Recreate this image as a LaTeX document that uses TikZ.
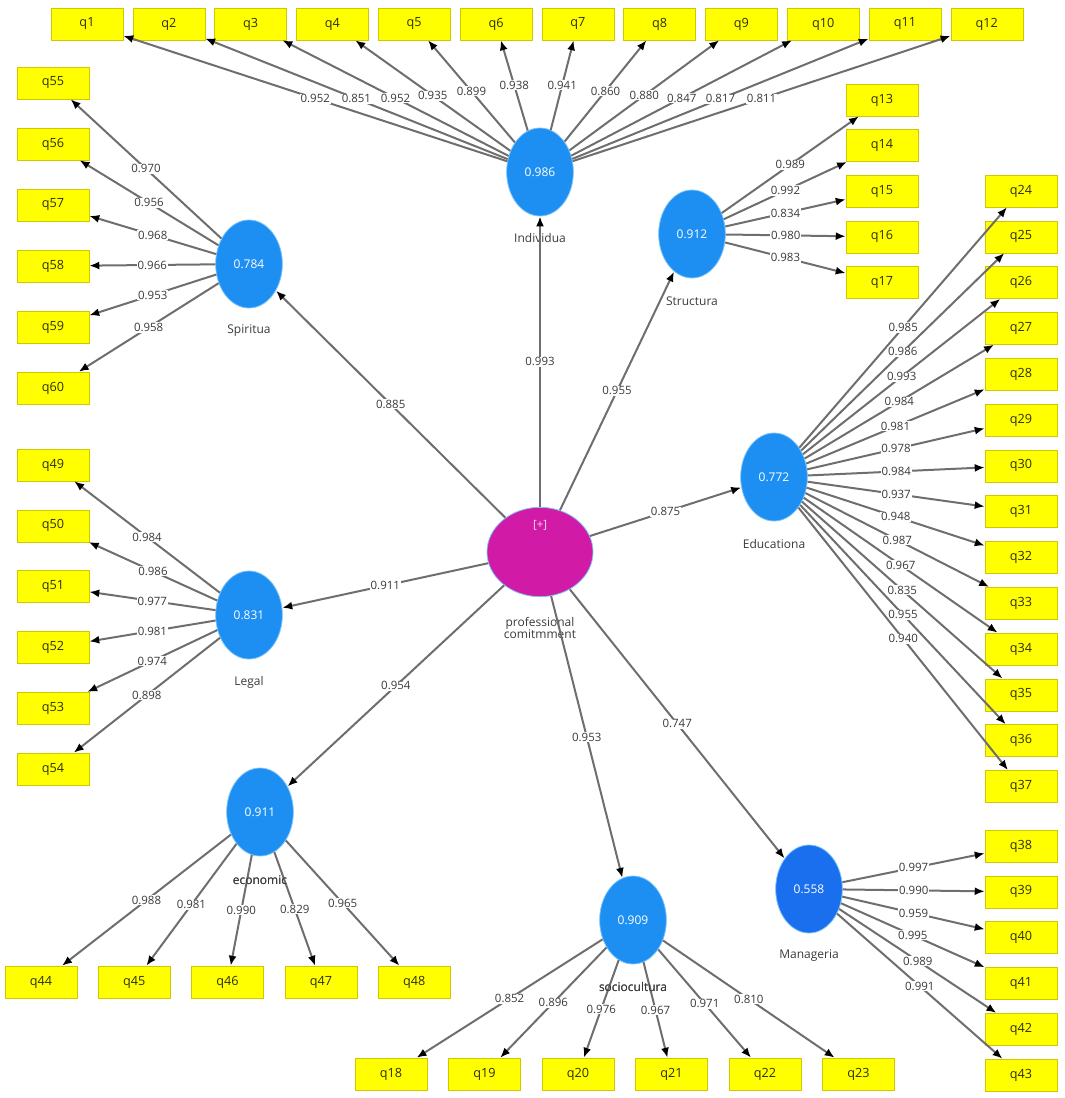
\documentclass[tikz,border=0pt]{standalone}
\usepackage{fontspec}
\setmainfont{Open Sans}
\usetikzlibrary{arrows.meta,shapes.geometric}
\definecolor{edgegray}{HTML}{6E6E6E}
\definecolor{latblue}{HTML}{1E8FF2}
\definecolor{mangblue}{HTML}{1A6FEF}
\definecolor{latrim}{HTML}{7CC4F8}
\definecolor{centmag}{HTML}{D11AA6}
\definecolor{boxyellow}{HTML}{FFFF00}
\definecolor{boxedge}{HTML}{CFC800}
\definecolor{txtgray}{HTML}{3A3A3A}
\definecolor{boxtxt}{HTML}{2E2E10}
\tikzset{
  indbox/.style={draw=boxedge, fill=boxyellow, minimum width=54pt, minimum height=24pt, inner sep=0pt, font=\fontsize{9.5}{10}\selectfont, text=boxtxt},
  lat/.style={ellipse, draw=latrim, line width=0.6pt, fill=latblue, minimum width=50pt, minimum height=66pt, inner sep=0pt, text=white, font=\fontsize{9}{10}\selectfont},
  latname/.style={text=txtgray, inner sep=0pt, font=\fontsize{9}{10}\selectfont},
  load/.style={draw=edgegray, line width=1.5pt, -{Latex[length=7.5pt,width=6pt,color=black,fill=black]}},
  val/.style={fill=white, inner sep=0.6pt, text=txtgray, font=\fontsize{8.6}{9}\selectfont},
}
\begin{document}
\begin{tikzpicture}[x=0.75pt,y=-0.75pt]
\useasboundingbox (0,0) rectangle (1064,1098);
% indicator boxes
\foreach \i in {1,...,12} \node[indbox] (q\i) at ({87+(\i-1)*81.8},24) {q\i};
\foreach \i in {13,...,17} \node[indbox] (q\i) at (882,{100+(\i-13)*45.6}) {q\i};
\foreach \i in {24,...,37} \node[indbox] (q\i) at (1021,{191+(\i-24)*45.8}) {q\i};
\foreach \i in {38,...,43} \node[indbox] (q\i) at (1021,{846+(\i-38)*45.8}) {q\i};
\foreach \i in {18,...,23} \node[indbox] (q\i) at ({391+(\i-18)*93.5},1074) {q\i};
\foreach \i in {44,...,48} \node[indbox] (q\i) at ({41+(\i-44)*93.3},982) {q\i};
\foreach \i in {49,...,54} \node[indbox] (q\i) at (53,{465+(\i-49)*60.8}) {q\i};
\foreach \i in {55,...,60} \node[indbox] (q\i) at (53,{83+(\i-55)*61}) {q\i};
% latent variables
\node[lat] (Ind) at (540,172) {0.986};
\node[lat] (Spi) at (249,264) {0.784};
\node[lat] (Str) at (692,234) {0.912};
\node[lat] (Edu) at (774,477) {0.772};
\node[lat] (Leg) at (249,615) {0.831};
\node[lat] (Eco) at (260,812) {0.911};
\node[lat] (Soc) at (633,920) {0.909};
\node[lat, fill=mangblue] (Man) at (809,889) {0.558};
\node[ellipse, draw=latrim, line width=0.6pt, fill=centmag, minimum width=79.5pt, minimum height=67pt, inner sep=0pt] (C) at (540,552) {};
\node[text=white!85!centmag, inner sep=0pt, font=\fontsize{8.5}{9}\selectfont] (plus) at (540,525) {[+]};
% latent names
\node[latname] (nInd) at (540,238) {Individua};
\node[latname] (nSpi) at (249,331) {Spiritua};
\node[latname] (nStr) at (692,301) {Structura};
\node[latname] (nEdu) at (774,544) {Educationa};
\node[latname] (nLeg) at (249,682) {Legal};
\node[latname] (nEco) at (260,880) {economic};
\node[latname] (nSoc) at (633,987) {sociocultura};
\node[latname] (nMan) at (809,956) {Manageria};
\node[latname, align=center] (nC) at (540,628) {professional\\[-1pt]comitmment};
% structural paths
\draw[load] (C) -- node[val]{0.993} (Ind);
\draw[load] (C) -- node[val]{0.885} (Spi);
\draw[load] (C) -- node[val]{0.955} (Str);
\draw[load] (C) -- node[val]{0.875} (Edu);
\draw[load] (C) -- node[val]{0.911} (Leg);
\draw[load] (C) -- node[val]{0.954} (Eco);
\draw[load] (C) -- node[val]{0.953} (Soc);
\draw[load] (C) -- node[val]{0.747} (Man);
% loadings
\foreach \i/\v in {1/0.952,2/0.851,3/0.952,4/0.935,5/0.899,6/0.938,7/0.941,8/0.860,9/0.880,10/0.847,11/0.817,12/0.811}
  \draw[load] (Ind) -- node[val]{\v} (q\i);
\foreach \i/\v in {13/0.989,14/0.992,15/0.834,16/0.980,17/0.983}
  \draw[load] (Str) -- node[val]{\v} (q\i);
\foreach \i/\v in {24/0.985,25/0.986,26/0.993,27/0.984,28/0.981,29/0.978,30/0.984,31/0.937,32/0.948,33/0.987,34/0.967,35/0.835,36/0.955,37/0.940}
  \draw[load] (Edu) -- node[val]{\v} (q\i);
\foreach \i/\v in {38/0.997,39/0.990,40/0.959,41/0.995,42/0.989,43/0.991}
  \draw[load] (Man) -- node[val]{\v} (q\i);
\foreach \i/\v in {18/0.852,19/0.896,20/0.976,21/0.967,22/0.971,23/0.810}
  \draw[load] (Soc) -- node[val]{\v} (q\i);
\foreach \i/\v in {44/0.988,45/0.981,46/0.990,47/0.829,48/0.965}
  \draw[load] (Eco) -- node[val]{\v} (q\i);
\foreach \i/\v in {49/0.984,50/0.986,51/0.977,52/0.981,53/0.974,54/0.898}
  \draw[load] (Leg) -- node[val]{\v} (q\i);
\foreach \i/\v in {55/0.970,56/0.956,57/0.968,58/0.966,59/0.953,60/0.958}
  \draw[load] (Spi) -- node[val]{\v} (q\i);
% redraw names over lines
\node[latname] at (633,987) {sociocultura};
\node[latname] at (260,880) {economic};
\end{tikzpicture}
\end{document}
